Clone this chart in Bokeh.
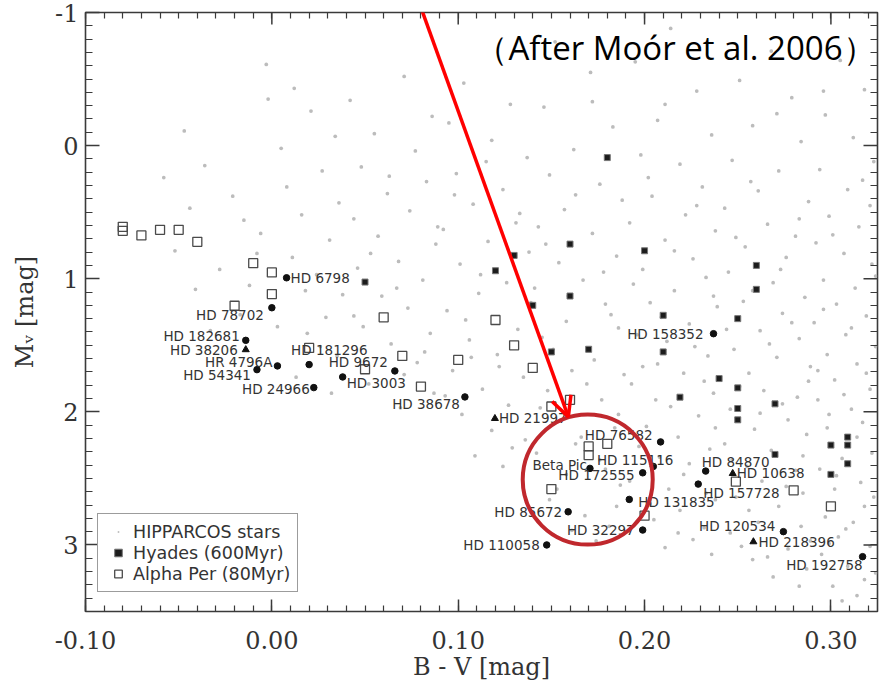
import math
from bokeh.plotting import figure
from bokeh.models import (Range1d, LinearAxis, FixedTicker, Label, Arrow, OpenHead,
                          Legend, LegendItem, ColumnDataSource)
from bokeh.core.properties import value
from bokeh.embed import file_html
from bokeh.resources import INLINE

# ---------------- axis ticks ----------------
x_ticks = [-0.10, 0.00, 0.10, 0.20, 0.30]
x_tick_labels = ["-0.10", "0.00", "0.10", "0.20", "0.30"]
y_ticks = [-1, 0, 1, 2, 3]
y_tick_labels = ["-1", "0", "1", "2", "3"]
x_minor = [round(-0.10 + 0.01 * i, 2) for i in range(43)]
y_minor = [round(-1.0 + 0.1 * i, 1) for i in range(46)]

# ---------------- HIPPARCOS field stars (B-V, M_V), read column by column ----------------
hip_bv_a = [-0.047, -0.036, -0.058, -0.021, -0.044, -0.015, -0.052, -0.028, -0.041, -0.017, -0.033, -0.012]
hip_mv_a = [-0.11, 0.15, 0.24, 0.38, 0.47, 0.56, 0.79, 0.93, 1.08, 1.27, 1.39, 1.05]

hip_bv_b = [-0.003, 0.012, -0.002, 0.021, 0.034, 0.005, 0.027, 0.008, 0.036, 0.016, -0.006,
            0.031, 0.011, 0.024, 0.038, 0.003, 0.029, 0.019, 0.035, 0.013, 0.032,
            0.018, -0.008, 0.026]
hip_mv_b = [-0.61, -0.43, -0.35, -0.26, -0.07, 0.02, 0.19, 0.31, 0.43, 0.52, 0.66,
            0.71, 0.84, 0.97, 1.12, 1.36, 1.29, 1.41, 1.58, 1.74, 1.86,
            1.09, 0.81, 1.51]

hip_bv_c = [0.042, 0.071, 0.086, 0.055, 0.077, 0.048, 0.083, 0.062, 0.044, 0.074, 0.057, 0.088,
            0.068, 0.046, 0.081, 0.059, 0.073, 0.049, 0.085, 0.064, 0.078, 0.052, 0.087, 0.069,
            0.053, 0.067, 0.044, 0.082, 0.071, 0.089, 0.063]
hip_mv_c = [-0.34, -0.52, -0.22, -0.09, 0.04, 0.16, 0.27, 0.36, 0.55, 0.49, 0.68, 0.74,
            0.87, 0.92, 1.01, 1.13, 1.22, 1.36, 1.41, 1.49, 1.63, 1.79, 1.86, 1.97,
            0.81, 1.07, 1.28, 1.55, 1.72, 0.61, 0.23]

hip_bv_d = [0.103, 0.128, 0.095, 0.118, 0.137, 0.099, 0.124, 0.108, 0.133, 0.092, 0.116, 0.138,
            0.101, 0.126, 0.111, 0.094, 0.132, 0.106, 0.121, 0.097, 0.135, 0.113, 0.127, 0.102,
            0.118, 0.136, 0.109, 0.124,
            0.098, 0.131, 0.112, 0.139, 0.104, 0.122, 0.093, 0.129, 0.115, 0.107]
hip_mv_d = [-0.47, -0.31, -0.17, -0.04, 0.09, 0.21, 0.33, 0.44, 0.51, 0.63, 0.72, 0.80,
            0.89, 1.03, 1.11, 1.24, 1.38, 1.46, 1.57, 1.69, 1.74, 1.83, 1.95, 2.02,
            2.14, 2.21, 2.33, 2.41,
            0.37, 0.58, 0.97, 1.18, 1.31, 1.66, 1.88, 2.27, 0.12, 1.59]

hip_bv_e = [0.152, 0.171, 0.146, 0.183, 0.162, 0.149, 0.176, 0.188, 0.157, 0.143, 0.172, 0.185,
            0.154, 0.167, 0.141, 0.179, 0.158, 0.186, 0.145, 0.173, 0.161, 0.189, 0.148, 0.177,
            0.155, 0.184, 0.166, 0.142, 0.176, 0.158, 0.187, 0.149, 0.168, 0.181, 0.174,
            0.163, 0.147, 0.178, 0.159, 0.182, 0.151, 0.169, 0.144, 0.186, 0.163, 0.179,
            0.153, 0.185, 0.161, 0.172]
hip_mv_e = [-0.78, -0.55, -0.29, -0.14, 0.03, 0.22, 0.29, 0.41, 0.48, 0.61, 0.66, 0.83,
            0.88, 1.01, 1.07, 1.19, 1.32, 1.37, 1.44, 1.61, 1.69, 1.72, 1.84, 1.91,
            2.06, 2.12, 2.19, 2.31, 2.36, 2.47, 2.55, 2.66, 2.78, 2.86, 2.97,
            0.37, 0.74, 0.95, 1.13, 1.27, 1.53, 1.79, 1.97, 2.02, 2.24, 2.43,
            2.58, 2.71, 2.89, -0.33]

hip_bv_f = [0.214, 0.195, 0.228, 0.207, 0.236, 0.198, 0.219, 0.231, 0.204, 0.222, 0.192, 0.238,
            0.211, 0.226, 0.199, 0.233, 0.216, 0.203, 0.239, 0.224, 0.196, 0.212, 0.234, 0.207,
            0.221, 0.193, 0.237, 0.214, 0.229, 0.201, 0.218, 0.235, 0.208, 0.224, 0.192, 0.213,
            0.238, 0.219, 0.205, 0.232, 0.226, 0.211,
            0.202, 0.228, 0.216, 0.194, 0.237, 0.209, 0.227, 0.199, 0.232, 0.206, 0.238, 0.197,
            0.221, 0.233, 0.203, 0.218, 0.236, 0.211]
hip_mv_f = [-0.88, -0.63, -0.41, -0.19, -0.08, 0.07, 0.14, 0.31, 0.38, 0.52, 0.58, 0.64,
            0.71, 0.85, 0.93, 0.99, 1.09, 1.18, 1.21, 1.34, 1.42, 1.47, 1.58, 1.64,
            1.71, 1.79, 1.86, 1.96, 2.03, 2.11, 2.19, 2.28, 2.34, 2.39, 2.52, 2.58,
            2.66, 2.74, 2.81, 2.87, 2.96, 3.02,
            0.24, 0.45, 0.79, 1.04, 1.13, 1.29, 1.51, 1.66, 1.77, 1.91, 2.12, 2.26,
            2.47, 2.61, 2.69, 2.91, 3.07, -0.31]

hip_bv_g = [0.268, 0.251, 0.279, 0.258, 0.284, 0.247, 0.272, 0.261, 0.288, 0.243, 0.266, 0.281,
            0.254, 0.276, 0.245, 0.269, 0.286, 0.253, 0.274, 0.262, 0.283, 0.248, 0.271, 0.289,
            0.256, 0.264, 0.282, 0.246, 0.277, 0.259, 0.287, 0.243, 0.268, 0.255, 0.281, 0.263,
            0.285, 0.249, 0.272, 0.261, 0.284, 0.246, 0.277, 0.258, 0.287, 0.269,
            0.257, 0.283, 0.249, 0.273, 0.258, 0.279, 0.244, 0.267, 0.288, 0.251, 0.274, 0.262,
            0.285, 0.247, 0.276, 0.256, 0.289, 0.266, 0.252, 0.283, 0.271]
hip_mv_g = [-0.71, -0.49, -0.36, -0.15, -0.03, 0.11, 0.19, 0.34, 0.42, 0.47, 0.59, 0.68,
            0.76, 0.84, 0.95, 1.03, 1.14, 1.17, 1.26, 1.39, 1.45, 1.53, 1.59, 1.66,
            1.71, 1.84, 1.89, 1.98, 2.06, 2.13, 2.17, 2.24, 2.29, 2.41, 2.44, 2.52,
            2.61, 2.64, 2.71, 2.83, 2.86, 2.91, 3.03, 3.11, 3.18, 3.24,
            0.27, 0.55, 0.69, 0.93, 1.09, 1.33, 1.38, 1.49, 1.77, 1.81, 1.94, 2.01,
            2.33, 2.36, 2.56, 2.74, 2.97, 3.09, 3.01, 3.31, -0.24]

hip_bv_h = [0.305, 0.318, 0.297, 0.312, 0.323, 0.294, 0.309, 0.321, 0.299, 0.315, 0.292, 0.307,
            0.322, 0.296, 0.313, 0.303, 0.319, 0.291, 0.308, 0.324, 0.298, 0.314, 0.302, 0.321,
            0.293, 0.311, 0.317, 0.298, 0.322, 0.306, 0.294, 0.316, 0.302, 0.323, 0.297, 0.312,
            0.304, 0.321, 0.295, 0.309, 0.318, 0.301, 0.314,
            0.317, 0.301, 0.324, 0.296, 0.311, 0.293, 0.319, 0.307, 0.299, 0.314, 0.303, 0.318,
            0.308, 0.299, 0.324, 0.306, 0.296]
hip_mv_h = [-0.64, -0.42, -0.23, -0.06, 0.12, 0.18, 0.33, 0.45, 0.53, 0.61, 0.73, 0.81,
            0.89, 1.01, 1.07, 1.19, 1.28, 1.33, 1.42, 1.51, 1.57, 1.64, 1.76, 1.83,
            1.91, 1.98, 2.08, 2.12, 2.31, 2.35, 2.43, 2.53, 2.58, 2.64, 2.79, 2.83,
            2.94, 3.01, 3.07, 3.16, 3.26, 3.31, 3.38,
            0.26, 0.67, 0.98, 1.23, 1.37, 1.69, 1.71, 1.87, 2.02, 2.19, 2.48, 2.71,
            2.88, 2.99, 3.21, 3.42, -0.41]

hip_bv = hip_bv_a + hip_bv_b + hip_bv_c + hip_bv_d + hip_bv_e + hip_bv_f + hip_bv_g + hip_bv_h
hip_mv = hip_mv_a + hip_mv_b + hip_mv_c + hip_mv_d + hip_mv_e + hip_mv_f + hip_mv_g + hip_mv_h

# ---------------- Hyades (600 Myr) ----------------
hy_bv = [0.050, 0.180, 0.160, 0.200, 0.260, 0.260, 0.130, 0.120, 0.160, 0.140,
         0.210, 0.250, 0.150, 0.170, 0.210, 0.240, 0.250, 0.219, 0.270, 0.250,
         0.250, 0.300, 0.309, 0.309, 0.270, 0.309, 0.300]
hy_mv = [1.025, 0.09, 0.74, 0.79, 0.90, 1.08, 0.825, 0.94, 1.13, 1.20,
         1.275, 1.30, 1.55, 1.53, 1.55, 1.75, 1.82, 1.89, 1.94, 1.975,
         2.06, 2.25, 2.19, 2.25, 2.32, 2.39, 2.47]

# ---------------- Alpha Per (80 Myr) ----------------
ap_bv = [-0.080, -0.080, -0.070, -0.060, -0.050, -0.040, -0.010, 0.000, 0.000, -0.020,
         0.060, 0.120, 0.020, 0.070, 0.050, 0.100, 0.080, 0.130, 0.140, 0.150,
         0.160, 0.170, 0.170, 0.180, 0.150, 0.200, 0.249, 0.280, 0.300]
ap_mv = [0.61, 0.64, 0.675, 0.633, 0.633, 0.723, 0.883, 0.953, 1.115, 1.203,
         1.29, 1.31, 1.52, 1.58, 1.68, 1.61, 1.81, 1.50, 1.67, 1.96,
         1.91, 2.26, 2.325, 2.24, 2.58, 2.78, 2.525, 2.59, 2.71]

# ---------------- debris-disk stars ----------------
dd_name = ["HD 6798", "HD 78702", "HD 182681", "HD 38206", "HR 4796A", "HD 54341",
           "HD 181296", "HD 24966", "HD 9672", "HD 3003", "HD 38678", "HD 21997",
           "HD 76582", "HD 115116", "Beta Pic", "HD 172555", "HD 131835", "HD 85672",
           "HD 32297", "HD 110058", "HD 158352", "HD 84870", "HD 10638", "HD 157728",
           "HD 120534", "HD 218396", "HD 192758"]
dd_bv = [0.0079, 0.000, -0.014, -0.014, 0.003, -0.008,
         0.020, 0.0225, 0.066, 0.038, 0.1036, 0.1197,
         0.2086, 0.2047, 0.1707, 0.199, 0.1918, 0.159,
         0.199, 0.1475, 0.237, 0.2328, 0.2473, 0.2288,
         0.2745, 0.2584, 0.317]
dd_mv = [0.993, 1.218, 1.463, 1.533, 1.655, 1.683,
         1.645, 1.818, 1.693, 1.738, 1.888, 2.05,
         2.226, 2.41, 2.425, 2.458, 2.658, 2.751,
         2.888, 3.00, 1.413, 2.445, 2.463, 2.543,
         2.90, 2.976, 3.088]
dd_kind = ["c", "c", "c", "t", "c", "c", "c", "c", "c", "c", "c", "t",
           "c", "c", "c", "c", "c", "c", "c", "c", "c", "c", "t", "c",
           "c", "t", "c"]
# label placement: side of the point and pixel nudge
dd_side = ["R", "L", "L", "L", "L", "L", "R", "L", "L", "R", "L", "R",
           "L", "L", "L", "L", "R", "L", "L", "L", "L", "R", "R", "R",
           "L", "R", "L"]
dd_dx = [4, -8, -6, -8, -5, -6, -18, -4, -7, 4, -5, 4,
         -8, 20, -3, -8, 9, -6, -8, -7, -10, -4, 4, 5,
         -8, 5, 0]
dd_dy = [0, 7, -4, 0, -4, 5, -15, 1, -9, 6, 7, 0,
         -7, -6, -3, 2, 3, 0, 0, 0, 0, -9, 0, 9,
         -6, 0, 8]

# ---------------- annotations ----------------
note_text = "（After Moór et al. 2006）"
note_y = -0.737
ring_x, ring_y, ring_px = 0.1695, 2.509, 130
arrow_x0, arrow_y0, arrow_x1, arrow_y1 = 0.0787, -1.088, 0.1591, 2.038

INK = "#3a3a3a"
X0, X1 = -0.10, 0.325
Y_BOTTOM, Y_TOP = 3.5, -1.0

p = figure(width=881, height=683,
           x_range=Range1d(X0, X1), y_range=Range1d(Y_BOTTOM, Y_TOP),
           output_backend="svg", toolbar_location=None,
           min_border_left=85, min_border_right=4, min_border_top=12, min_border_bottom=70)
p.background_fill_color = "white"
p.border_fill_color = "white"
p.grid.visible = False
p.outline_line_color = INK
p.outline_line_width = 1.6


def style_ticks(ax, tick_in, minor_in):
    ax.axis_line_color = None
    ax.major_tick_in = tick_in
    ax.major_tick_out = 0
    ax.minor_tick_in = minor_in
    ax.minor_tick_out = 0
    ax.major_tick_line_color = INK
    ax.major_tick_line_width = 1.5
    ax.minor_tick_line_color = INK
    ax.minor_tick_line_width = 1.2


xa = p.xaxis[0]
xa.ticker = FixedTicker(ticks=x_ticks, minor_ticks=x_minor)
style_ticks(xa, 12, 6)
xa.major_label_overrides = dict(zip(x_ticks, x_tick_labels))
xa.major_label_text_font = "DejaVu Serif"
xa.major_label_text_font_size = "24px"
xa.major_label_text_color = "#333333"
xa.major_label_standoff = 19
xa.axis_label = "B - V [mag]"
xa.axis_label_text_font = "DejaVu Serif"
xa.axis_label_text_font_size = "24px"
xa.axis_label_text_font_style = "normal"
xa.axis_label_text_color = "#333333"
xa.axis_label_standoff = 1

ya = p.yaxis[0]
ya.ticker = FixedTicker(ticks=y_ticks, minor_ticks=y_minor)
style_ticks(ya, 14, 7)
ya.major_label_overrides = dict(zip(y_ticks, y_tick_labels))
ya.major_label_text_font = "DejaVu Serif"
ya.major_label_text_font_size = "24px"
ya.major_label_text_color = "#333333"
ya.major_label_standoff = 7
ya.axis_label = "Mᵥ [mag]"
ya.axis_label_text_font = "DejaVu Serif"
ya.axis_label_text_font_size = "24px"
ya.axis_label_text_font_style = "normal"
ya.axis_label_text_color = "#333333"
ya.axis_label_standoff = 13

# mirrored frame ticks (top and right): minor ticks from label-less axes
top_ax = LinearAxis(ticker=FixedTicker(ticks=[], minor_ticks=x_minor))
style_ticks(top_ax, 12, 6)
p.add_layout(top_ax, "above")
right_ax = LinearAxis(ticker=FixedTicker(ticks=[], minor_ticks=y_minor))
style_ticks(right_ax, 14, 7)
p.add_layout(right_ax, "right")

# ---------------- data layers ----------------
r_hip = p.scatter(hip_bv, hip_mv, marker="dot", size=15, line_color="#b0b0b0",
                  fill_color="#b0b0b0", line_alpha=0.85, fill_alpha=0.85)
r_ap = p.scatter(ap_bv, ap_mv, marker="square", size=9, fill_color=None,
                 line_color="#4a4a4a", line_width=1.3)
r_hy = p.scatter(hy_bv, hy_mv, marker="square", size=6, fill_color="#1c1c1c",
                 line_color="#777777", line_width=1)

# major ticks of the mirrored top / right frame edges (half of each dash lies inside)
p.scatter(x_ticks, [Y_TOP] * len(x_ticks), marker="dash", size=24, angle=math.pi / 2,
          line_color=INK, line_width=1.5)
p.scatter([X1] * len(y_ticks), y_ticks, marker="dash", size=28,
          line_color=INK, line_width=1.5)

dd_src_c = ColumnDataSource(dict(
    x=[b for b, k in zip(dd_bv, dd_kind) if k == "c"],
    y=[m for m, k in zip(dd_mv, dd_kind) if k == "c"]))
dd_src_t = ColumnDataSource(dict(
    x=[b for b, k in zip(dd_bv, dd_kind) if k == "t"],
    y=[m for m, k in zip(dd_mv, dd_kind) if k == "t"]))
p.scatter("x", "y", source=dd_src_c, marker="circle", size=6.5, fill_color="#111111", line_color="#111111")
p.scatter("x", "y", source=dd_src_t, marker="triangle", size=7, fill_color="#111111", line_color="#111111")

for side, align in [("R", "left"), ("L", "right")]:
    idx = [i for i, s in enumerate(dd_side) if s == side]
    src = ColumnDataSource(dict(
        x=[dd_bv[i] for i in idx], y=[dd_mv[i] for i in idx],
        t=[dd_name[i] for i in idx], dx=[dd_dx[i] for i in idx], dy=[dd_dy[i] for i in idx]))
    p.text("x", "y", text="t", source=src, x_offset="dx", y_offset="dy",
           text_font=value("DejaVu Sans"), text_font_size="13.5px", text_color="#333333",
           text_align=align, text_baseline="middle")

# legend
legend = Legend(items=[LegendItem(label="HIPPARCOS stars", renderers=[r_hip]),
                       LegendItem(label="Hyades (600Myr)", renderers=[r_hy]),
                       LegendItem(label="Alpha Per (80Myr)", renderers=[r_ap])],
                location=(12, 19), orientation="vertical",
                label_text_font="DejaVu Sans", label_text_font_size="17.5px",
                label_text_color="#333333", padding=7, spacing=0, margin=0,
                label_height=21, glyph_height=19, glyph_width=26, label_standoff=2,
                border_line_color=INK, border_line_width=1.5,
                background_fill_color="white", background_fill_alpha=1.0)
p.add_layout(legend)

# red ring and arrow
p.scatter([ring_x], [ring_y], marker="circle", size=ring_px, fill_color=None,
          line_color="#C0282D", line_width=4)
p.add_layout(Arrow(end=OpenHead(size=20, line_color="#FF0000", line_width=3.5),
                   x_start=arrow_x0, y_start=arrow_y0, x_end=arrow_x1, y_end=arrow_y1,
                   line_color="#FF0000", line_width=3.5))

p.add_layout(Label(x=X1, y=note_y, x_offset=-2, text=note_text, text_align="right",
                   text_baseline="alphabetic", text_font="Open Sans",
                   text_font_size="33px", text_color="black"))

open("out.html", "w").write(file_html(p, INLINE))
